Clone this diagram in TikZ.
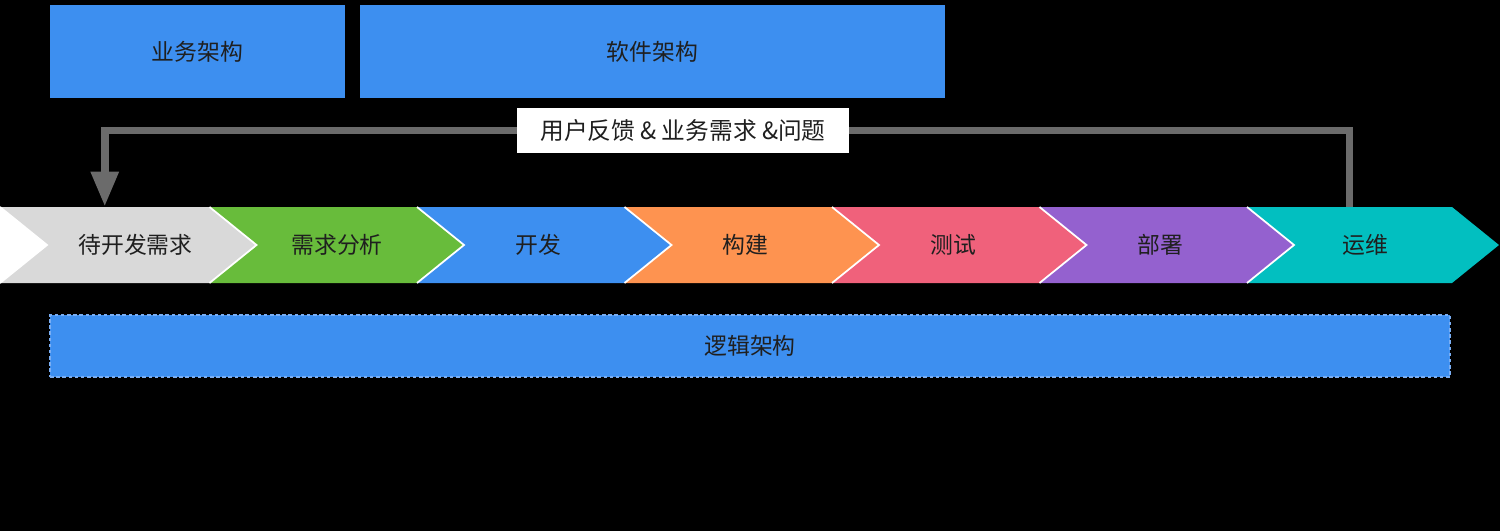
\documentclass[tikz,border=0pt]{standalone}
\usepackage{fontspec}
\setmainfont{Noto Sans CJK SC}
\usetikzlibrary{arrows.meta}

\definecolor{archblue}{HTML}{3D8FF0}
\definecolor{dashblue}{HTML}{7AAEF3}
\definecolor{stgray}{HTML}{D9D9D9}
\definecolor{stgreen}{HTML}{68BC3B}
\definecolor{stblue}{HTML}{3D8FF0}
\definecolor{storange}{HTML}{FE9350}
\definecolor{stpink}{HTML}{F0617B}
\definecolor{stpurple}{HTML}{9461CF}
\definecolor{stteal}{HTML}{02BFC0}
\definecolor{flowgray}{HTML}{6B6B6B}

\tikzset{
  labeltext/.style={text=black!88, font=\fontsize{13}{15}\selectfont},
  archbox/.style={fill=archblue, inner sep=0pt, minimum height=1.86cm, labeltext},
  stagebody/.style={inner sep=0pt, minimum height=1.52cm},
  flowline/.style={draw=flowgray, line width=4.5pt, line join=miter},
}

\begin{document}
\begin{tikzpicture}[x=0.02cm, y=-0.02cm]
  \fill[black] (0,0) rectangle (1500,531);
  \useasboundingbox (0,0) rectangle (1500,531);

  % architecture boxes
  \node[archbox, minimum width=5.9cm] (biz) at (197.5,51.5) {业务架构};
  \node[archbox, minimum width=11.7cm] (soft) at (652.5,51.5) {软件架构};
  \node[archbox, minimum width=28cm, minimum height=1.24cm,
        draw=dashblue, line width=0.8pt, dash pattern=on 2pt off 1.5pt] (logic) at (750,346) {逻辑架构};

  % stages: name/colour/text/start/end/text x
  \foreach \name/\col/\txt/\sx/\ex/\tx in {wait/stgray/待开发需求/0/209.5/135.5,
      analyse/stgreen/需求分析/209.5/417/337, dev/stblue/开发/417/624.5/538.5,
      build/storange/构建/624.5/832/745.5, test/stpink/测试/832/1039.5/953,
      deploy/stpurple/部署/1039.5/1247/1160, ops/stteal/运维/1247/1452/1365.5} {
    \fill[\col] (\sx,207) -- (\ex,207) -- (\ex+47,245) -- (\ex,283) -- (\sx,283) -- (\sx+47,245) -- cycle;
    \draw[white, line width=1pt] (\sx,207) -- (\sx+47,245) -- (\sx,283);
    \node[stagebody, minimum width=(\ex-\sx)*0.02cm] (\name) at ({(\sx+\ex)/2},245) {};
    \node[labeltext] (\name-text) at (\tx,245) {\txt};
  }
  \fill[white] (0,207) -- (47,245) -- (0,283) -- cycle;

  % feedback loop
  \node[fill=white, labeltext, font=\fontsize{13.5}{15}\selectfont, inner sep=0pt,
        minimum width=6.64cm, minimum height=0.9cm] (feedback) at (683,130.5) {用户反馈 \& 业务需求 \&问题};
  \draw[flowline] (ops.north) |- (feedback.east);
  \draw[flowline, -{Triangle[width=15pt, length=20pt]}] (feedback.west) -| (wait.north);
\end{tikzpicture}
\end{document}
